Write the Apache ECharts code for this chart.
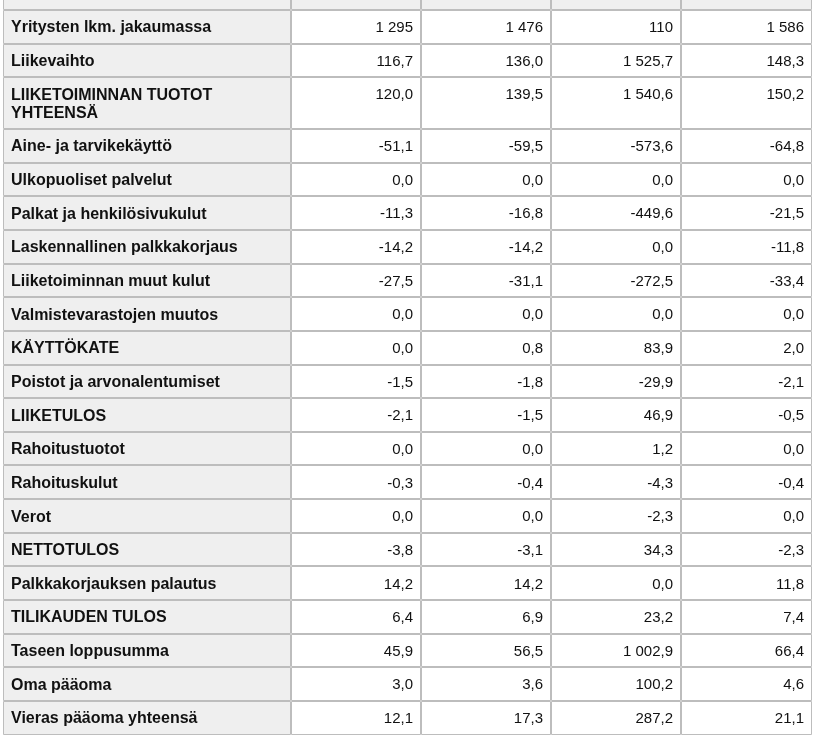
<!DOCTYPE html>
<html><head><meta charset="utf-8">
<script src="https://cdn.jsdelivr.net/npm/echarts@6/dist/echarts.min.js"></script>
<style>html,body{margin:0;padding:0;background:#fff}#c{width:814px;height:745px}</style>
</head><body><div id="c"></div>
<script>
// ---- data ----
const rowLabels = [
  'Yritysten lkm. jakaumassa',
  'Liikevaihto',
  'LIIKETOIMINNAN TUOTOT\nYHTEENSÄ',
  'Aine- ja tarvikekäyttö',
  'Ulkopuoliset palvelut',
  'Palkat ja henkilösivukulut',
  'Laskennallinen palkkakorjaus',
  'Liiketoiminnan muut kulut',
  'Valmistevarastojen muutos',
  'KÄYTTÖKATE',
  'Poistot ja arvonalentumiset',
  'LIIKETULOS',
  'Rahoitustuotot',
  'Rahoituskulut',
  'Verot',
  'NETTOTULOS',
  'Palkkakorjauksen palautus',
  'TILIKAUDEN TULOS',
  'Taseen loppusumma',
  'Oma pääoma',
  'Vieras pääoma yhteensä'
];
const column1 = [1295, 116.7, 120.0, -51.1, 0.0, -11.3, -14.2, -27.5, 0.0, 0.0, -1.5, -2.1, 0.0, -0.3, 0.0, -3.8, 14.2, 6.4, 45.9, 3.0, 12.1];
const column2 = [1476, 136.0, 139.5, -59.5, 0.0, -16.8, -14.2, -31.1, 0.0, 0.8, -1.8, -1.5, 0.0, -0.4, 0.0, -3.1, 14.2, 6.9, 56.5, 3.6, 17.3];
const column3 = [110, 1525.7, 1540.6, -573.6, 0.0, -449.6, 0.0, -272.5, 0.0, 83.9, -29.9, 46.9, 1.2, -4.3, -2.3, 34.3, 0.0, 23.2, 1002.9, 100.2, 287.2];
const column4 = [1586, 148.3, 150.2, -64.8, 0.0, -21.5, -11.8, -33.4, 0.0, 2.0, -2.1, -0.5, 0.0, -0.4, 0.0, -2.3, 11.8, 7.4, 66.4, 4.6, 21.1];
const integerRows = ['Yritysten lkm. jakaumassa'];

// ---- layout ----
const columns = [column1, column2, column3, column4];
const PX_ROW = 33.65, PX_LINE = 18, TOP_PX = 10, H_PX = 745;
const colEdges = [3, 291, 421, 551, 681, 812];
const rowTops = [-1, 0];
{ let t = 0; rowLabels.forEach(l => { t += 1 + (l.split('\n').length - 1) * PX_LINE / PX_ROW; rowTops.push(t); }); }

function fmt(v, d) {
  const s = Math.abs(v).toFixed(d);
  let parts = s.split('.');
  let ip = parts[0].replace(/\B(?=(\d{3})+(?!\d))/g, ' ');
  return (v < 0 ? '-' : '') + ip + (parts[1] ? ',' + parts[1] : '');
}

const cells = [];
for (let r = 0; r <= rowLabels.length; r++) for (let c = 0; c < 5; c++) cells.push([c, r]);

function renderItem(params, api) {
  const c = api.value(0), r = api.value(1);
  const a = api.coord([colEdges[c], rowTops[r]]);
  const b = api.coord([colEdges[c + 1], rowTops[r + 1]]);
  const ax = Math.round(a[0]), ay = Math.round(a[1]), bx = Math.round(b[0]), by = Math.round(b[1]);
  const header = r === 0;
  const gray = header || c === 0;
  const children = [{
    type: 'rect',
    shape: { x: ax + 0.5, y: ay + 0.5, width: bx - ax - 1, height: by - ay - 1 },
    style: { fill: gray ? '#efefef' : '#ffffff', stroke: '#bdbdbd', lineWidth: 1 }
  }];
  if (!header) {
    const label = rowLabels[r - 1];
    if (c === 0) {
      children.push({ type: 'text', style: {
        text: label, x: ax + 8, y: a[1] + 9, align: 'left', verticalAlign: 'top',
        font: 'bold 16px "Liberation Sans", Arial, sans-serif', lineHeight: 18, fill: '#111'
      }});
    } else {
      const d = integerRows.includes(label) ? 0 : 1;
      children.push({ type: 'text', style: {
        text: fmt(columns[c - 1][r - 1], d), x: bx - 8, y: a[1] + 9, align: 'right', verticalAlign: 'top',
        font: '15px "Liberation Sans", Arial, sans-serif', lineHeight: 18, fill: '#111'
      }});
    }
  }
  return { type: 'group', children };
}

const yMin = -TOP_PX / PX_ROW;
const chart = echarts.init(document.getElementById('c'), null, { renderer: 'canvas' });
chart.setOption({
  animation: false,
  grid: { left: 0, right: 0, top: 0, bottom: 0 },
  xAxis: { type: 'value', min: 0, max: 814, show: false },
  yAxis: { type: 'value', min: yMin, max: yMin + H_PX / PX_ROW, inverse: true, show: false },
  series: [{ type: 'custom', renderItem, data: cells, clip: false }]
});
</script></body></html>
